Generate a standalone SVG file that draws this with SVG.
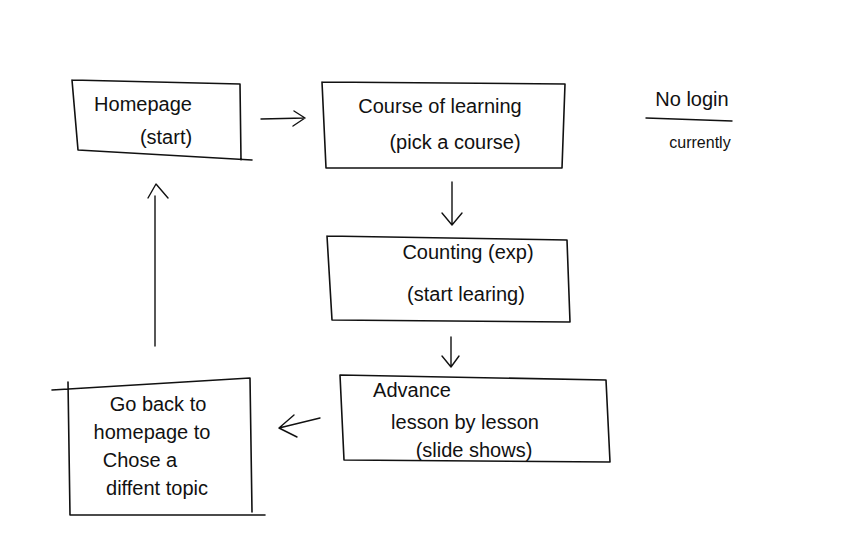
<svg xmlns="http://www.w3.org/2000/svg" width="862" height="560" viewBox="0 0 862 560">
<style>
.box{fill:none;stroke:#111;stroke-width:1.6;stroke-linecap:round;stroke-linejoin:round}
.conn{fill:none;stroke:#111;stroke-width:1.4;stroke-linecap:round;stroke-linejoin:round}
text{font-family:"Liberation Sans","DejaVu Sans",sans-serif;font-size:20px;fill:#111;text-anchor:middle}
</style>
<rect width="862" height="560" fill="#fff"/>
<g id="homepage">
<path class="box" d="M72,80 L240,84 L241,160 M72,80 L78,150 L252,160"/>
<text x="143" y="111">Homepage</text>
<text x="166" y="144">(start)</text>
</g>
<g id="course">
<path class="box" d="M322,82 L565,84 L562,168 L326,168 M322,82 L326,168"/>
<text x="440" y="113">Course of learning</text>
<text x="455" y="149">(pick a course)</text>
</g>
<g id="counting">
<path class="box" d="M327,236 L567,240 L570,322 L332,320 L327,236"/>
<text x="468" y="259">Counting (exp)</text>
<text x="466" y="301">(start learing)</text>
</g>
<g id="advance">
<path class="box" d="M340,375 L606,380 L610,462 L344,460 Z"/>
<text x="412" y="397">Advance</text>
<text x="465" y="429">lesson by lesson</text>
<text x="474" y="457">(slide shows)</text>
</g>
<g id="goback">
<path class="box" d="M52,390 L250,378 L252,512 M68,382 L70,515 L265,515"/>
<text x="158" y="411">Go back to</text>
<text x="152" y="439">homepage to</text>
<text x="140" y="467">Chose a</text>
<text x="157" y="495">diffent topic</text>
</g>
<g id="note">
<text x="692" y="106">No login</text>
<path class="conn" d="M646,118 L732,121"/>
<text x="700" y="148" style="font-size:16px">currently</text>
</g>
<g id="connectors">
<path class="conn" d="M261,119 L305,118 M294,111 L305,118 L293,126"/>
<path class="conn" d="M452,182 L452,224 M442,213 L452,225 L462,213"/>
<path class="conn" d="M451,337 L451,366 M442,356 L451,367 L459,356"/>
<path class="conn" d="M320,418 L279,428 M294,415 L279,428 L297,437"/>
<path class="conn" d="M155,346 L155,196 M148,198 L156,184 L168,198"/>
</g>
</svg>
